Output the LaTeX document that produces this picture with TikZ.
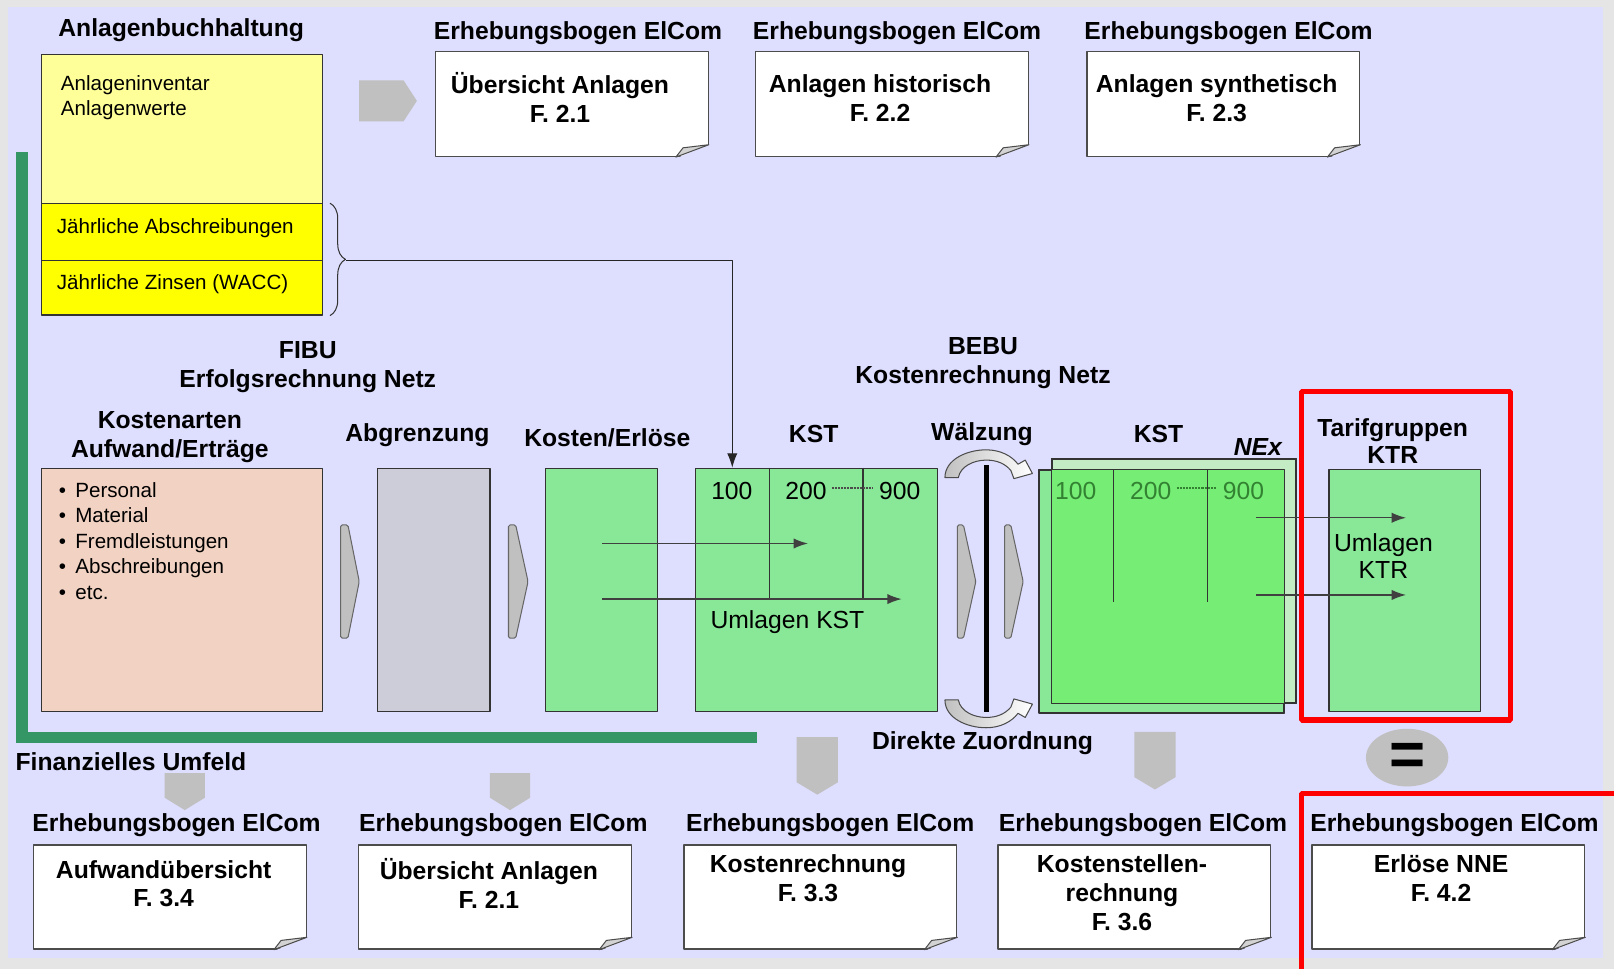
\documentclass[tikz,border=0pt]{standalone}
\usepackage{fontspec}
\setmainfont{Liberation Sans}
\usetikzlibrary{calc,arrows.meta,decorations.pathreplacing,shapes.geometric}
\definecolor{rahmen}{RGB}{229,229,229}
\definecolor{flaeche}{RGB}{222,222,255}
\definecolor{gelbhell}{RGB}{255,255,153}
\definecolor{gelb}{RGB}{255,255,0}
\definecolor{lachs}{RGB}{242,210,194}
\definecolor{grau}{RGB}{205,205,217}
\definecolor{gruen}{RGB}{136,232,152}
\definecolor{gruenstark}{RGB}{118,238,118}
\definecolor{gruenblass}{RGB}{196,236,196}
\definecolor{umfeld}{RGB}{52,150,100}
\definecolor{pfeilgrau}{RGB}{192,192,192}
\definecolor{zahlgruen}{RGB}{50,130,50}
\begin{document}
\begin{tikzpicture}[x=1pt,y=-1pt,>={Latex[length=14pt,width=10pt]},line join=bevel,
  kasten/.style={draw=black!80,line width=1.2pt,inner sep=0pt},
  bogen/.style={kasten,fill=white,draw=black!70,minimum width=265pt,minimum height=102pt},
  titel/.style={font=\fontsize{24}{28}\selectfont\bfseries,align=center,inner sep=0pt},
  schrift/.style={font=\fontsize{24}{26}\selectfont,align=center,inner sep=0pt},
  klein/.style={font=\fontsize{20}{24}\selectfont,align=left,inner sep=0pt},
  keil/.style={fill=pfeilgrau,draw=black!60,line width=1pt,rounded corners=1.5pt},
  pfeil/.style={fill=pfeilgrau},
  umlage/.style={->,draw=black!75,line width=1.4pt},
  rot/.style={draw=red,line width=5pt}]
%%
\useasboundingbox (0,0) rectangle (1568,941);
\fill[rahmen] (0,0) rectangle (1568,941);
\fill[flaeche] (8,7) rectangle (1557,931);
\fill[umfeld] (15.5,148) rectangle (27,722);
\fill[umfeld] (15.5,711) rectangle (735,722);
%
\node (anl_titel) at (176,29) [titel] {Anlagenbuchhaltung};
\node (anl_inv) at (176.5,125.5) [kasten,fill=gelbhell,minimum width=273pt,minimum height=145pt] {};
\node (anl_abs) at (176.5,225.5) [kasten,fill=gelb,minimum width=273pt,minimum height=55pt] {};
\node (anl_zins) at (176.5,279.5) [kasten,fill=gelb,minimum width=273pt,minimum height=53pt] {};
\node (anl_inv_txt) at (59,95) [klein,anchor=west] {Anlageninventar\\Anlagenwerte};
\node (anl_abs_txt) at (55,222) [klein,anchor=west] {Jährliche Abschreibungen};
\node (anl_zins_txt) at (55,276) [klein,anchor=west] {Jährliche Zinsen (WACC)};
\draw [decorate,decoration={brace,amplitude=15pt},line width=1pt,black!80] ([xshift=7pt]anl_abs.north east) -- ([xshift=7pt]anl_zins.south east);
\fill[pfeil] (349,78) -- (392,78) -- (405,98) -- (392,118) -- (349,118) -- cycle;
%
\node (bogen_a) at (555.5,101) [bogen] {};
\node (bogen_b) at (866.5,101) [bogen] {};
\node (bogen_c) at (1188.5,101) [bogen] {};
\node (bogen_a_titel) at (561.5,32) [titel] {Erhebungsbogen ElCom};
\node (bogen_b_titel) at (871.5,32) [titel] {Erhebungsbogen ElCom};
\node (bogen_c_titel) at (1193.5,32) [titel] {Erhebungsbogen ElCom};
\node (bogen_a_txt) at (544,95) [titel] {Übersicht Anlagen\\F. 2.1};
\node (bogen_b_txt) at (855,95) [titel] {Anlagen historisch\\F. 2.2};
\node (bogen_c_txt) at (1182,95) [titel] {Anlagen synthetisch\\F. 2.3};
%
\node (fibu) at (299,357) [titel] {FIBU\\Erfolgsrechnung Netz};
\node (bebu) at (955,352.5) [titel] {BEBU\\Kostenrechnung Netz};
\node (kostenarten_titel) at (165,424.5) [titel] {Kostenarten\\Aufwand/Erträge};
\node (abgrenzung_titel) at (405.5,423) [titel] {Abgrenzung};
\node (kosten_titel) at (590,425) [titel] {Kosten/Erlöse};
\node (kst_1_titel) at (790.5,422) [titel] {KST};
\node (walz_titel) at (954,422) [titel] {Wälzung};
\node (kst_2_titel) at (1125.5,422) [titel] {KST};
\node (nex) at (1222,434) [titel,font=\fontsize{24}{28}\selectfont\bfseries\itshape] {NEx};
\node (ktr_titel) at (1353,428.5) [titel,font=\fontsize{24}{27}\selectfont\bfseries] {Tarifgruppen\\KTR};
%
\node (kostenarten) at (176.5,573) [kasten,fill=lachs,minimum width=273pt,minimum height=236pt] {};
\node (kostenarten_txt) at (57,525.5) [klein,anchor=west,font=\fontsize{20}{24.75}\selectfont] {\textbullet\hspace{9pt}Personal\\\textbullet\hspace{9pt}Material\\\textbullet\hspace{9pt}Fremdleistungen\\\textbullet\hspace{9pt}Abschreibungen\\\textbullet\hspace{9pt}etc.};
\node (abgrenzung) at (421.5,573) [kasten,fill=grau,minimum width=109pt,minimum height=236pt] {};
\node (kosten) at (584.5,573) [kasten,fill=gruen,minimum width=109pt,minimum height=236pt] {};
\node (kst_1) at (793.5,573) [kasten,fill=gruen,minimum width=235pt,minimum height=236pt] {};
\draw [kasten] ([xshift=72pt]kst_1.north west) -- ++(0,128);
\draw [kasten] ([xshift=163pt]kst_1.north west) -- ++(0,128);
\node (kst_a100) at (711,477) [schrift] {100};
\node (kst_a200) at (783,477) [schrift] {200};
\node (kst_a900) at (874,477) [schrift] {900};
\draw [densely dotted,line width=2pt,black!70] ([xshift=5pt,yshift=3pt]kst_a200.east) -- ([xshift=-6pt,yshift=3pt]kst_a900.west);
\coordinate (u1_start) at (585,528);
\coordinate (u1_ende) at (785,528);
\coordinate (u2_start) at (585,582);
\coordinate (u2_ende) at (876,582);
\draw [umlage] (u1_start) -- (u1_ende);
\draw [umlage] (u2_start) -- (u2_ende);
\node (umlagen_kst) at (765,604) [schrift] {Umlagen KST};
\coordinate (klammer) at (336,253);
\draw [->,line width=1.2pt,black!85] (klammer) -| ([xshift=36pt]kst_1.north west);
%
\draw [keil] (331,510) -- (338,510) -- (349,565) -- (338,620) -- (331,620) -- cycle;
\draw [keil] (494,510) -- (501,510) -- (513,565) -- (501,620) -- (494,620) -- cycle;
\draw [keil] (930,510) -- (936,510) -- (948,565) -- (936,620) -- (930,620) -- cycle;
\draw [keil] (976,510) -- (982,510) -- (994,565) -- (982,620) -- (976,620) -- cycle;
\coordinate (walz_oben) at (958,452);
\coordinate (walz_unten) at (958,692);
\draw [line width=5pt] (walz_oben) -- (walz_unten);
\shadedraw [left color=pfeilgrau,right color=white,draw=black!70,line width=1pt] (918,464) .. controls (918,446) and (940,437) .. (958,437) .. controls (972,437) and (983,443) .. (989,451) -- (996,447) -- (1003,460) -- (985,465) -- (982,457) .. controls (976,450) and (968,447) .. (958,447) .. controls (946,447) and (933,453) .. (931,464) -- cycle;
\shadedraw [left color=pfeilgrau,right color=white,draw=black!70,line width=1pt] (918,680) .. controls (918,698) and (940,707) .. (958,707) .. controls (972,707) and (983,701) .. (989,693) -- (996,697) -- (1003,684) -- (985,679) -- (982,687) .. controls (976,694) and (968,697) .. (958,697) .. controls (946,697) and (933,691) .. (931,680) -- cycle;
%
\node (kst_2b) at (1140.5,564.5) [kasten,fill=gruenblass,minimum width=237pt,minimum height=237pt] {};
\node (kst_2) at (1128.5,574.5) [kasten,fill=gruen,minimum width=237pt,minimum height=235pt] {};
\fill [gruenstark] (kst_2b.west |- kst_2.north) rectangle (kst_2.east |- kst_2b.south);
\draw [kasten] (kst_2b.north west) rectangle (kst_2b.south east);
\draw [kasten] (kst_2.north west) rectangle (kst_2.south east);
\draw [kasten] ([xshift=72pt]kst_2.north west) -- ++(0,128);
\draw [kasten] ([xshift=163.5pt]kst_2.north west) -- ++(0,128);
\node (kst_b100) at (1045,477) [schrift,text=zahlgruen] {100};
\node (kst_b200) at (1118,477) [schrift,text=zahlgruen] {200};
\node (kst_b900) at (1208,477) [schrift,text=zahlgruen] {900};
\draw [densely dotted,line width=2pt,zahlgruen] ([xshift=5pt,yshift=3pt]kst_b200.east) -- ([xshift=-6pt,yshift=3pt]kst_b900.west);
%
\node (ktr) at (1364.5,573.5) [kasten,fill=gruen,minimum width=147pt,minimum height=235pt] {};
\node (umlagen_ktr) at (1344,540) [schrift] {Umlagen\\KTR};
\coordinate (u3_start) at (1220,503);
\coordinate (u3_ende) at (1366,503);
\coordinate (u4_start) at (1220,578);
\coordinate (u4_ende) at (1366,578);
\draw [umlage] (u3_start) -- (u3_ende);
\draw [umlage] (u4_start) -- (u4_ende);
\node (rot_ktr) at (1366,540) [rot,minimum width=203pt,minimum height=319pt,inner sep=0pt] {};
\node (gleich) at (1367,736) [ellipse,fill=pfeilgrau,minimum width=80pt,minimum height=56pt,inner sep=0pt] {};
\node (gleich_txt) at (1367,738) [font=\fontsize{60}{60}\selectfont\bfseries,inner sep=0pt] {=};
%
\node (umfeld_txt) at (15,740) [titel,anchor=west] {Finanzielles Umfeld};
\node (direkt) at (954.5,722) [titel] {Direkte Zuordnung};
\fill[pfeil] (160,751) -- (199,751) -- (199,775) -- (179.5,787) -- (160,775) -- cycle;
\fill[pfeil] (476,751) -- (515,751) -- (515,775) -- (495.5,787) -- (476,775) -- cycle;
\fill[pfeil] (774,716) -- (814,716) -- (814,760) -- (794,772) -- (774,760) -- cycle;
\fill[pfeil] (1102,711) -- (1142,711) -- (1142,755) -- (1122,767) -- (1102,755) -- cycle;
%
\node (bogen_d) at (165,871.5) [bogen,minimum height=101pt] {};
\node (bogen_e) at (481,871.5) [bogen,minimum height=101pt] {};
\node (bogen_f) at (797,871.5) [bogen,minimum height=101pt] {};
\node (bogen_g) at (1102,871.5) [bogen,minimum height=101pt] {};
\node (bogen_h) at (1407,871.5) [bogen,minimum height=101pt] {};
\foreach \b in {bogen_a,bogen_b,bogen_c,bogen_d,bogen_e,bogen_f,bogen_g,bogen_h}{
  \fill [flaeche] ($(\b.south east)+(1.5,-12.5)$) -- ($(\b.south east)+(1.5,1.5)$) -- ($(\b.south east)+(-32.5,1.5)$) -- cycle;
  \draw [fill=pfeilgrau!70,draw=black!70,line width=1pt,line join=round] ($(\b.south east)+(0,-12)$) -- ($(\b.south east)+(-32,0)$) -- ($(\b.south east)+(-25,-9)$) -- cycle;
}
\node (bogen_d_titel) at (171.5,802) [titel] {Erhebungsbogen ElCom};
\node (bogen_e_titel) at (489,802) [titel] {Erhebungsbogen ElCom};
\node (bogen_f_titel) at (806.5,802) [titel] {Erhebungsbogen ElCom};
\node (bogen_g_titel) at (1110.5,802) [titel] {Erhebungsbogen ElCom};
\node (bogen_h_titel) at (1413,802) [titel] {Erhebungsbogen ElCom};
\node (bogen_d_txt) at (159,858.5) [titel] {Aufwandübersicht\\F. 3.4};
\node (bogen_e_txt) at (475,858.5) [titel] {Übersicht Anlagen\\F. 2.1};
\node (bogen_f_txt) at (785,853) [titel] {Kostenrechnung\\F. 3.3};
\node (bogen_g_txt) at (1090,867) [titel] {Kostenstellen-\\rechnung\\F. 3.6};
\node (bogen_h_txt) at (1400,853) [titel] {Erlöse NNE\\F. 4.2};
\draw [rot] (1264.5,945) -- (1264.5,770.5) -- (1575,770.5);
%
\end{tikzpicture}
\end{document}
